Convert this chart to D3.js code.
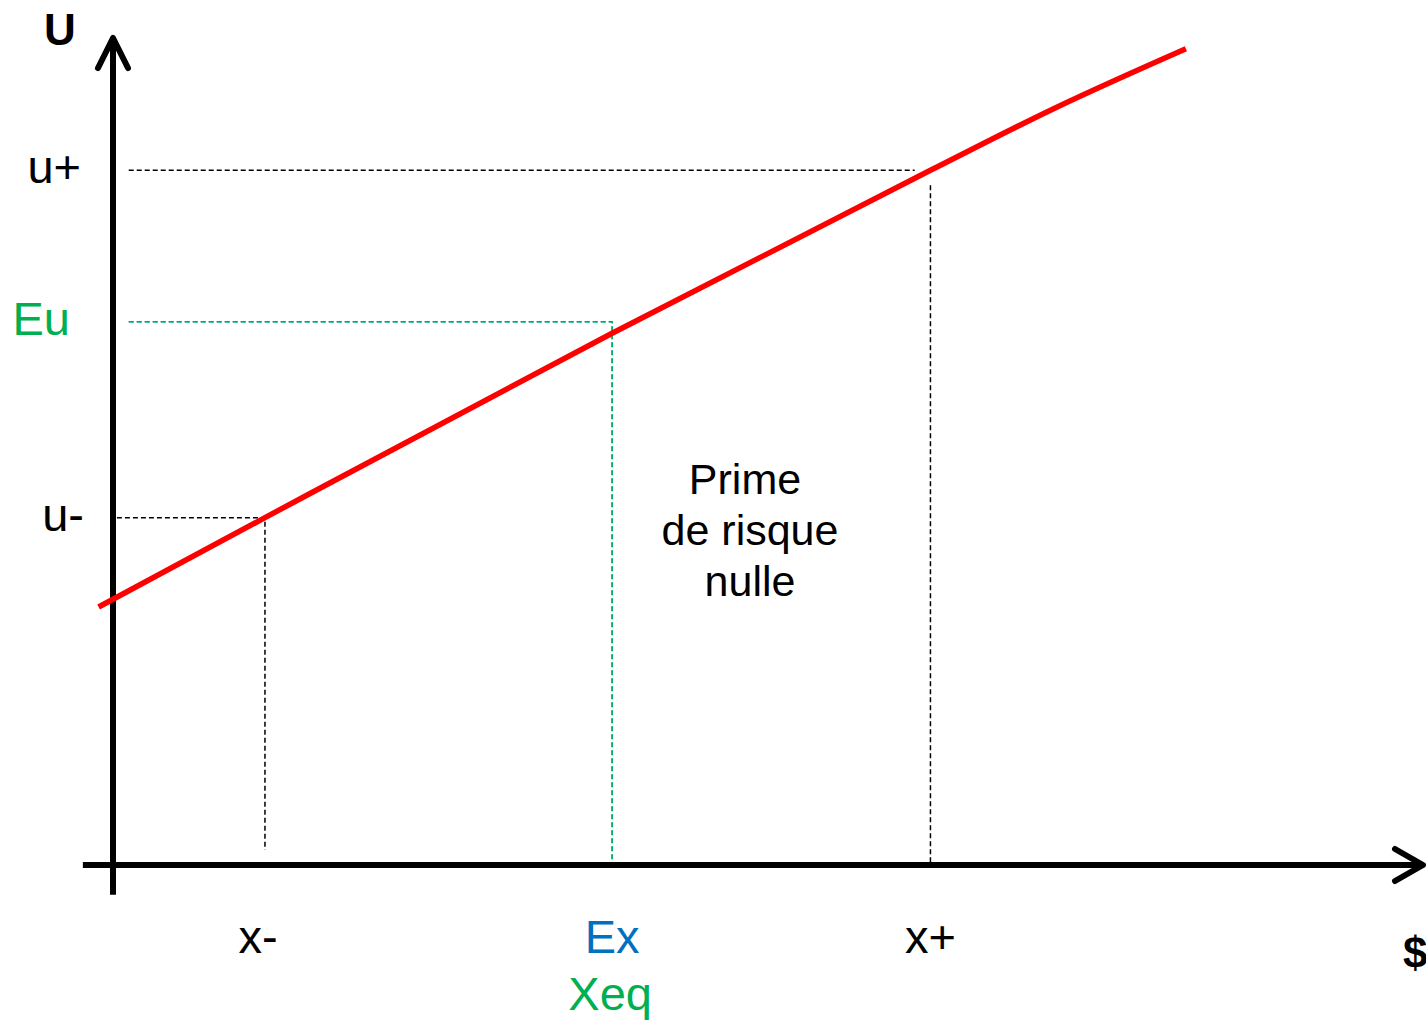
<!DOCTYPE html>
<html>
<head>
<meta charset="utf-8">
<script src="https://cdn.jsdelivr.net/npm/d3@7"></script>
<style>
  html, body { margin: 0; padding: 0; background: #fff; }
  svg { display: block; font-family: "Liberation Sans", Arial, sans-serif; }
</style>
</head>
<body>
<div id="chart"></div>
<script>
// courbe d'utilité (x en $, y en utilité)
const curveX = [-1.1, 11.6, 38.1, 62.4, 72.0, 81.9];
const curveU = [31.2, 42.0, 64.3, 84.0, 91.6, 98.7];

// points remarquables
const pointNames = ["x-", "Ex", "x+"];
const pointX = [11.6, 38.1, 62.4];
const levelNames = ["u-", "Eu", "u+"];
const levelU = [42.0, 65.7, 84.0];

const width = 1426, height = 1021;

const svg = d3.select("#chart").append("svg")
    .attr("width", width)
    .attr("height", height);

const x = d3.scaleLinear().domain([0, 100]).range([113, 1423]);
const y = d3.scaleLinear().domain([0, 100]).range([865, 38]);

// lignes pointillées de repère
const guides = svg.append("g")
    .attr("fill", "none")
    .attr("stroke-width", 1.5)
    .attr("stroke-dasharray", "5,3");

// u- / x-
guides.append("path")
    .attr("stroke", "#000")
    .attr("d", `M${x(0.3)},${y(levelU[0])} H${x(pointX[0])} V${y(1.8)}`);

// u+ / x+
guides.append("line")
    .attr("stroke", "#000")
    .attr("x1", x(1.2)).attr("x2", x(61.2))
    .attr("y1", y(levelU[2])).attr("y2", y(levelU[2]));
guides.append("line")
    .attr("stroke", "#000")
    .attr("x1", x(pointX[2])).attr("x2", x(pointX[2]))
    .attr("y1", y(82.2)).attr("y2", y(0));

// Eu / Ex (bleu + vert superposés)
const euPath = `M${x(1.2)},${y(levelU[1])} H${x(pointX[1])} V${y(0)}`;
guides.append("path")
    .attr("stroke", "#00B0F0")
    .attr("d", euPath);
guides.append("path")
    .attr("stroke", "#00B050")
    .attr("d", euPath);

// axes
const axes = svg.append("g")
    .attr("stroke", "#000")
    .attr("stroke-width", 6)
    .attr("fill", "none")
    .attr("stroke-linecap", "round")
    .attr("stroke-linejoin", "round");

axes.append("line")
    .attr("stroke-linecap", "butt")
    .attr("x1", x(0)).attr("x2", x(0))
    .attr("y1", y(-3.6)).attr("y2", y(100));
axes.append("path")
    .attr("d", `M${x(0) - 15},${y(100) + 30} L${x(0)},${y(100)} L${x(0) + 15},${y(100) + 30}`);

axes.append("line")
    .attr("stroke-linecap", "butt")
    .attr("x1", x(-2.3)).attr("x2", x(100))
    .attr("y1", y(0)).attr("y2", y(0));
axes.append("path")
    .attr("d", `M${x(100) - 28},${y(0) - 16} L${x(100)},${y(0)} L${x(100) - 28},${y(0) + 16}`);

// courbe d'utilité
const line = d3.line()
    .x(d => x(d[0]))
    .y(d => y(d[1]))
    .curve(d3.curveMonotoneX);

svg.append("path")
    .datum(curveX.map((v, i) => [v, curveU[i]]))
    .attr("fill", "none")
    .attr("stroke", "#FF0000")
    .attr("stroke-width", 5.5)
    .attr("d", line);

// textes
const txt = svg.append("g").style("font-size", "47px");

txt.append("text")
    .attr("x", 60).attr("y", 45)
    .attr("text-anchor", "middle")
    .style("font-size", "44px")
    .style("font-weight", "bold")
    .text("U");

const levelColors = ["#000", "#00B050", "#000"];
const levelRight = [84, 70, 81];
levelNames.forEach((name, i) => {
    txt.append("text")
        .attr("x", levelRight[i])
        .attr("y", y(levelU[i]) + 13)
        .attr("text-anchor", "end")
        .attr("fill", levelColors[i])
        .text(name);
});

const pointColors = ["#000", "#0070C0", "#000"];
pointNames.forEach((name, i) => {
    txt.append("text")
        .attr("x", x(pointX[i]) - (i === 0 ? 7 : 0))
        .attr("y", 953)
        .attr("text-anchor", "middle")
        .attr("fill", pointColors[i])
        .text(name);
});

txt.append("text")
    .attr("x", x(pointX[1]) - 2)
    .attr("y", 1010)
    .attr("text-anchor", "middle")
    .attr("fill", "#00B050")
    .text("Xeq");

txt.append("text")
    .attr("x", 1403).attr("y", 968)
    .style("font-size", "44px")
    .style("font-weight", "bold")
    .text("$");

const note = ["Prime", "de risque", "nulle"];
txt.append("g")
    .style("font-size", "43px")
    .selectAll("text")
    .data(note)
    .enter()
    .append("text")
    .attr("x", (d, i) => i === 0 ? 745 : 750)
    .attr("y", (d, i) => 494 + i * 51)
    .attr("text-anchor", "middle")
    .text(d => d);
</script>
</body>
</html>
